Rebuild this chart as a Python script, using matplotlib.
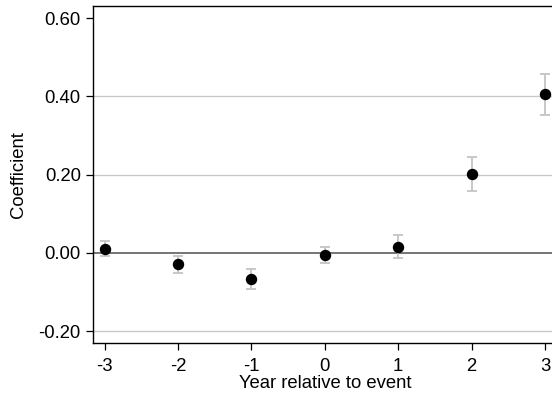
import matplotlib
matplotlib.use("Agg")
import matplotlib.pyplot as plt

# event-study estimates
years = [-3, -2, -1, 0, 1, 2, 3]
coef = [0.011, -0.029, -0.066, -0.006, 0.016, 0.202, 0.405]
ci_low = [-0.008, -0.052, -0.091, -0.026, -0.014, 0.159, 0.353]
ci_high = [0.031, -0.007, -0.040, 0.015, 0.046, 0.245, 0.458]

yticks = [-0.20, 0.00, 0.20, 0.40, 0.60]
grid_vals = [-0.20, 0.20, 0.40]

plt.rcParams['font.family'] = ['Liberation Sans', 'DejaVu Sans']
FS = 13.3

fig = plt.figure(figsize=(5.52, 3.95), dpi=100)
ax = fig.add_axes([93 / 552, 51.7 / 395, 463.7 / 552, 337.3 / 395])

for g in grid_vals:
    ax.axhline(g, color='#c8c8c8', lw=1.0, zorder=0)
ax.axhline(0, color='#505050', lw=1.1, zorder=1)

err_lo = [c - l for c, l in zip(coef, ci_low)]
err_hi = [h - c for c, h in zip(coef, ci_high)]
ax.errorbar(years, coef, yerr=[err_lo, err_hi], fmt='none',
            ecolor='#c4c4c4', elinewidth=1.3, capsize=3.6, capthick=1.3, zorder=2)
ax.plot(years, coef, 'o', color='black', markersize=7.2, zorder=3)

ax.set_xlim(-3.16, 3.16)
ax.set_ylim(-0.231, 0.631)
ax.set_xticks(years)
ax.set_xticklabels([str(y) for y in years])
ax.set_yticks(yticks)
ax.set_yticklabels([f"{v:.2f}" for v in yticks])

for s in ax.spines.values():
    s.set_linewidth(1.0)
    s.set_color('black')
ax.tick_params(direction='out', length=4.8, width=0.9, labelsize=FS)
ax.tick_params(axis='x', pad=5.5)
ax.tick_params(axis='y', pad=4)

ax.set_xlabel("Year relative to event", fontsize=FS, labelpad=0.5)
ax.set_ylabel("Coefficient", fontsize=FS, labelpad=8)

fig.savefig("out.png", dpi=100)
